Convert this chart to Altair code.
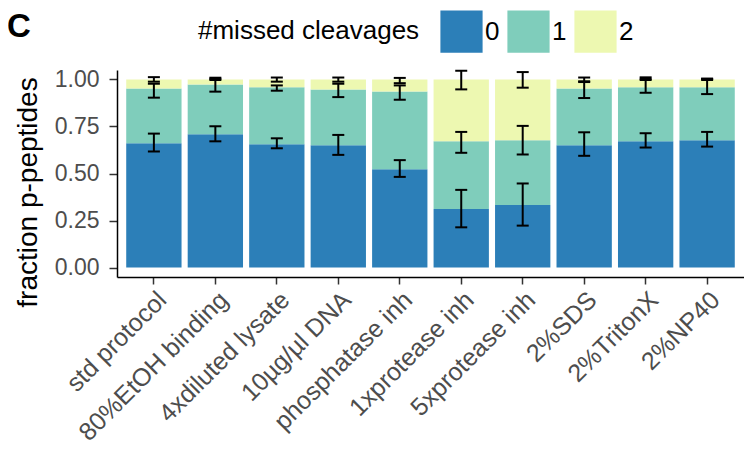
import altair as alt
import pandas as pd

categories = ["std protocol", "80%EtOH binding", "4xdiluted lysate", "10µg/µl DNA",
              "phosphatase inh", "1xprotease inh", "5xprotease inh", "2%SDS",
              "2%TritonX", "2%NP40"]
classes = ["0", "1", "2"]
colors = ["#2c7fb8", "#7fcdbb", "#edf8b1"]

# fraction of p-peptides per number of missed cleavages
frac0 = [0.661, 0.708, 0.655, 0.650, 0.523, 0.311, 0.332, 0.650, 0.671, 0.677]
frac1 = [0.291, 0.265, 0.303, 0.297, 0.413, 0.360, 0.345, 0.302, 0.287, 0.281]
frac2 = [0.048, 0.027, 0.042, 0.053, 0.064, 0.329, 0.323, 0.048, 0.042, 0.042]

# error bars (cumulative positions)
err0_lo = [0.617, 0.671, 0.634, 0.599, 0.482, 0.214, 0.223, 0.594, 0.638, 0.643]
err0_hi = [0.712, 0.751, 0.687, 0.705, 0.571, 0.413, 0.447, 0.719, 0.714, 0.721]
err1_lo = [0.903, 0.935, 0.940, 0.906, 0.892, 0.610, 0.601, 0.901, 0.929, 0.922]
err1_hi = [0.977, 1.009, 0.968, 0.977, 0.968, 0.721, 0.753, 0.986, 1.011, 1.004]
err2_lo = [0.988, 0.997, 0.988, 0.988, 0.980, 0.947, 0.956, 0.990, 0.997, 0.997]
err2_hi = [1.012, 1.003, 1.010, 1.010, 1.008, 1.046, 1.039, 1.010, 1.003, 1.003]

rows = []
for fr, c in zip([frac0, frac1, frac2], classes):
    for cat, v in zip(categories, fr):
        rows.append({"cond": cat, "cls": c, "frac": v})
bars_df = pd.DataFrame(rows)

erows = []
for lo, hi, c in zip([err0_lo, err1_lo, err2_lo], [err0_hi, err1_hi, err2_hi], classes):
    for cat, a, b in zip(categories, lo, hi):
        erows.append({"cond": cat, "cls": c, "lo": a, "hi": b})
err_df = pd.DataFrame(erows)

xscale = alt.Scale(domain=categories, paddingInner=0.1, paddingOuter=0.15)
yscale = alt.Scale(domain=[-0.05, 1.05], nice=False, zero=False)

xenc = alt.X("cond:N", scale=xscale, sort=categories, title=None,
             axis=alt.Axis(labelAngle=-45, labelFontSize=25, labelColor="#4d4d4d",
                           labelPadding=3, tickSize=7, tickWidth=1.5, tickColor="#333333",
                           domainColor="black", domainWidth=1.5, labelLimit=400))

bars = alt.Chart(bars_df).mark_bar(strokeWidth=0).encode(
    x=xenc,
    y=alt.Y("frac:Q", stack="zero", scale=yscale, title="fraction p-peptides",
            axis=alt.Axis(values=[0, 0.25, 0.5, 0.75, 1.0], format=".2f",
                          labelFontSize=23, labelColor="#4d4d4d", labelPadding=10,
                          tickSize=8, tickWidth=1.5, tickColor="#333333",
                          domainColor="black", domainWidth=1.5, grid=False,
                          titleFontSize=28, titleFontWeight="normal", titleColor="black",
                          titlePadding=12, titleY=122)),
    color=alt.Color("cls:N", scale=alt.Scale(domain=classes, range=colors),
                    title="#missed cleavages",
                    legend=alt.Legend(orient="none", legendX=81, legendY=-60,
                                      direction="horizontal", titleOrient="left",
                                      titleAnchor="middle", titleBaseline="middle",
                                      symbolType="square", symbolSize=1780,
                                      symbolStrokeWidth=0, symbolOpacity=1,
                                      labelFontSize=26, titleFontSize=26,
                                      titleFontWeight="normal", labelOffset=2,
                                      columnPadding=7, titlePadding=20, titleLimit=500,
                                      labelColor="black", titleColor="black", padding=0)),
    order=alt.Order("cls:N", sort="ascending"),
)

rule = alt.Chart(err_df).mark_rule(color="black", strokeWidth=2).encode(
    x=alt.X("cond:N", scale=xscale, sort=categories),
    y=alt.Y("lo:Q", scale=yscale),
    y2="hi:Q",
)
cap_lo = alt.Chart(err_df).mark_tick(color="black", thickness=2, size=12, opacity=1).encode(
    x=alt.X("cond:N", scale=xscale, sort=categories),
    y=alt.Y("lo:Q", scale=yscale),
)
cap_hi = alt.Chart(err_df).mark_tick(color="black", thickness=2, size=12, opacity=1).encode(
    x=alt.X("cond:N", scale=xscale, sort=categories),
    y=alt.Y("hi:Q", scale=yscale),
)

chart = alt.layer(bars, rule, cap_lo, cap_hi).properties(
    width=627, height=207,
    title=alt.TitleParams("C", anchor="start", frame="group", fontSize=33,
                          fontWeight="bold", color="black", dx=-110, dy=40,
                          offset=-20, baseline="alphabetic"),
    autosize=alt.AutoSizeParams(type="none"),
    padding={"left": 109, "top": 62, "right": 0, "bottom": 170},
).configure(font="Liberation Sans").configure_view(stroke=None)

chart.save("out.html", embed_options={"renderer": "svg", "actions": False})
